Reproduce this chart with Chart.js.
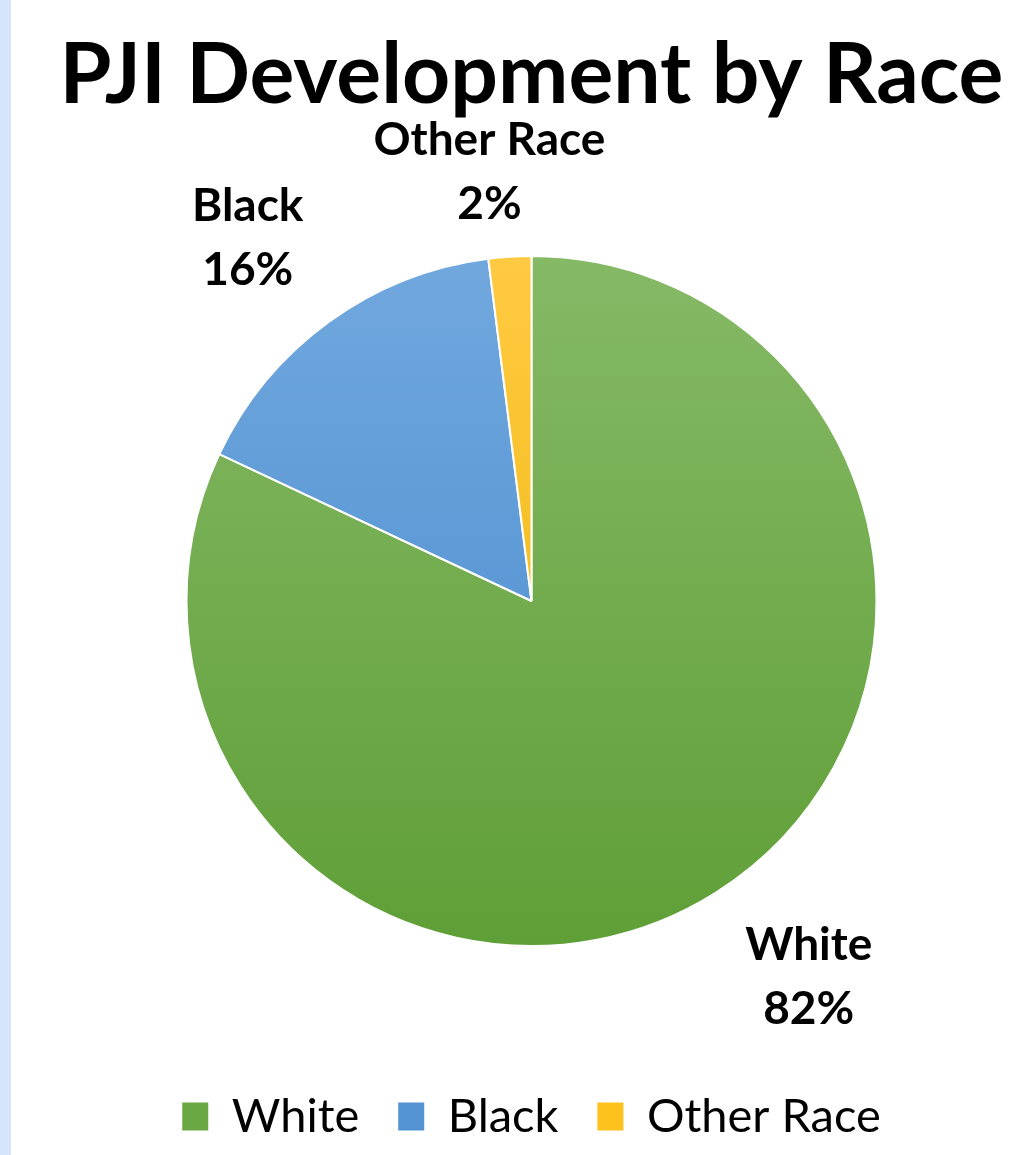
<!DOCTYPE html>
<html>
<head>
<meta charset="utf-8">
<script src="https://cdn.jsdelivr.net/npm/chart.js@4"></script>
<style>
  html, body { margin: 0; padding: 0; background: #fff; }
  #wrap { position: relative; width: 1015px; height: 1155px; }
  #strip { position: absolute; left: 0; top: 0; width: 11px; height: 1155px; background: #d6e5fb; }
  #chart { position: absolute; left: 0; top: 0; }
</style>
</head>
<body>
<div id="wrap">
  <div id="strip"></div>
  <canvas id="chart" width="1015" height="1155"></canvas>
</div>
<script>
// data
const categories = ["White", "Black", "Other Race"];
const percentages = [82, 16, 2];

// gradient colours top -> bottom, per slice
const sliceColors = [
  ["#86b966", "#5f9f37"],
  ["#71a8de", "#4689cd"],
  ["#ffca42", "#e8b400"]
];
const legendColors = ["#6aa844", "#5393d3", "#fdc31c"];

const PIE_RADIUS = 345;

function sliceGradient(context) {
  const chart = context.chart;
  const area = chart.chartArea;
  const i = context.dataIndex;
  if (!area) return sliceColors[i][0];
  const cy = (area.top + area.bottom) / 2;
  const g = chart.ctx.createLinearGradient(0, cy - PIE_RADIUS, 0, cy + PIE_RADIUS);
  g.addColorStop(0, sliceColors[i][0]);
  g.addColorStop(1, sliceColors[i][1]);
  return g;
}

// labels outside the pie, name on one line, percent below
const outsideLabels = {
  id: "outsideLabels",
  afterDatasetsDraw(chart, args, opts) {
    const ctx = chart.ctx;
    const meta = chart.getDatasetMeta(0);
    meta.data.forEach((arc, i) => {
      const p = arc.getProps(["x", "y", "startAngle", "endAngle", "outerRadius"], true);
      const mid = (p.startAngle + p.endAngle) / 2 + opts.nudge[i] * Math.PI / 180;
      const d = p.outerRadius * opts.distance[i];
      const cx = p.x + Math.cos(mid) * d;
      const cy = p.y + Math.sin(mid) * d;
      ctx.save();
      ctx.font = "bold 46px Lato";
      ctx.fillStyle = "#000";
      ctx.textAlign = "center";
      ctx.textBaseline = "middle";
      ctx.fillText(categories[i], cx, cy - opts.lineGap / 2);
      ctx.fillText(percentages[i] + "%", cx, cy + opts.lineGap / 2);
      ctx.restore();
    });
  }
};

new Chart(document.getElementById("chart"), {
  type: "pie",
  data: {
    labels: categories,
    datasets: [{
      data: percentages,
      backgroundColor: sliceGradient,
      borderColor: "#ffffff",
      borderWidth: 2,
      radius: PIE_RADIUS
    }]
  },
  options: {
    responsive: false,
    animation: false,
    layout: { padding: { left: 48, right: 0, top: 0, bottom: 5 } },
    plugins: {
      title: {
        display: true,
        text: "PJI Development by Race",
        color: "#000",
        font: { family: "Lato", size: 84, weight: "bold", lineHeight: 1.0 },
        padding: { top: 34, bottom: 30 }
      },
      legend: {
        position: "bottom",
        labels: {
          color: "#000",
          font: { family: "Lato", size: 47 },
          boxWidth: 26,
          boxHeight: 28,
          padding: 39,
          generateLabels(chart) {
            const items = Chart.overrides.pie.plugins.legend.labels.generateLabels(chart);
            items.forEach((it, i) => {
              it.fillStyle = legendColors[i];
              it.strokeStyle = legendColors[i];
              it.lineWidth = 0;
            });
            return items;
          }
        }
      },
      tooltip: { enabled: false },
      outsideLabels: {
        distance: [1.354, 1.336, 1.25],
        nudge: [-4, -2, -2],
        lineGap: 64
      }
    }
  },
  plugins: [outsideLabels]
});
</script>
</body>
</html>
